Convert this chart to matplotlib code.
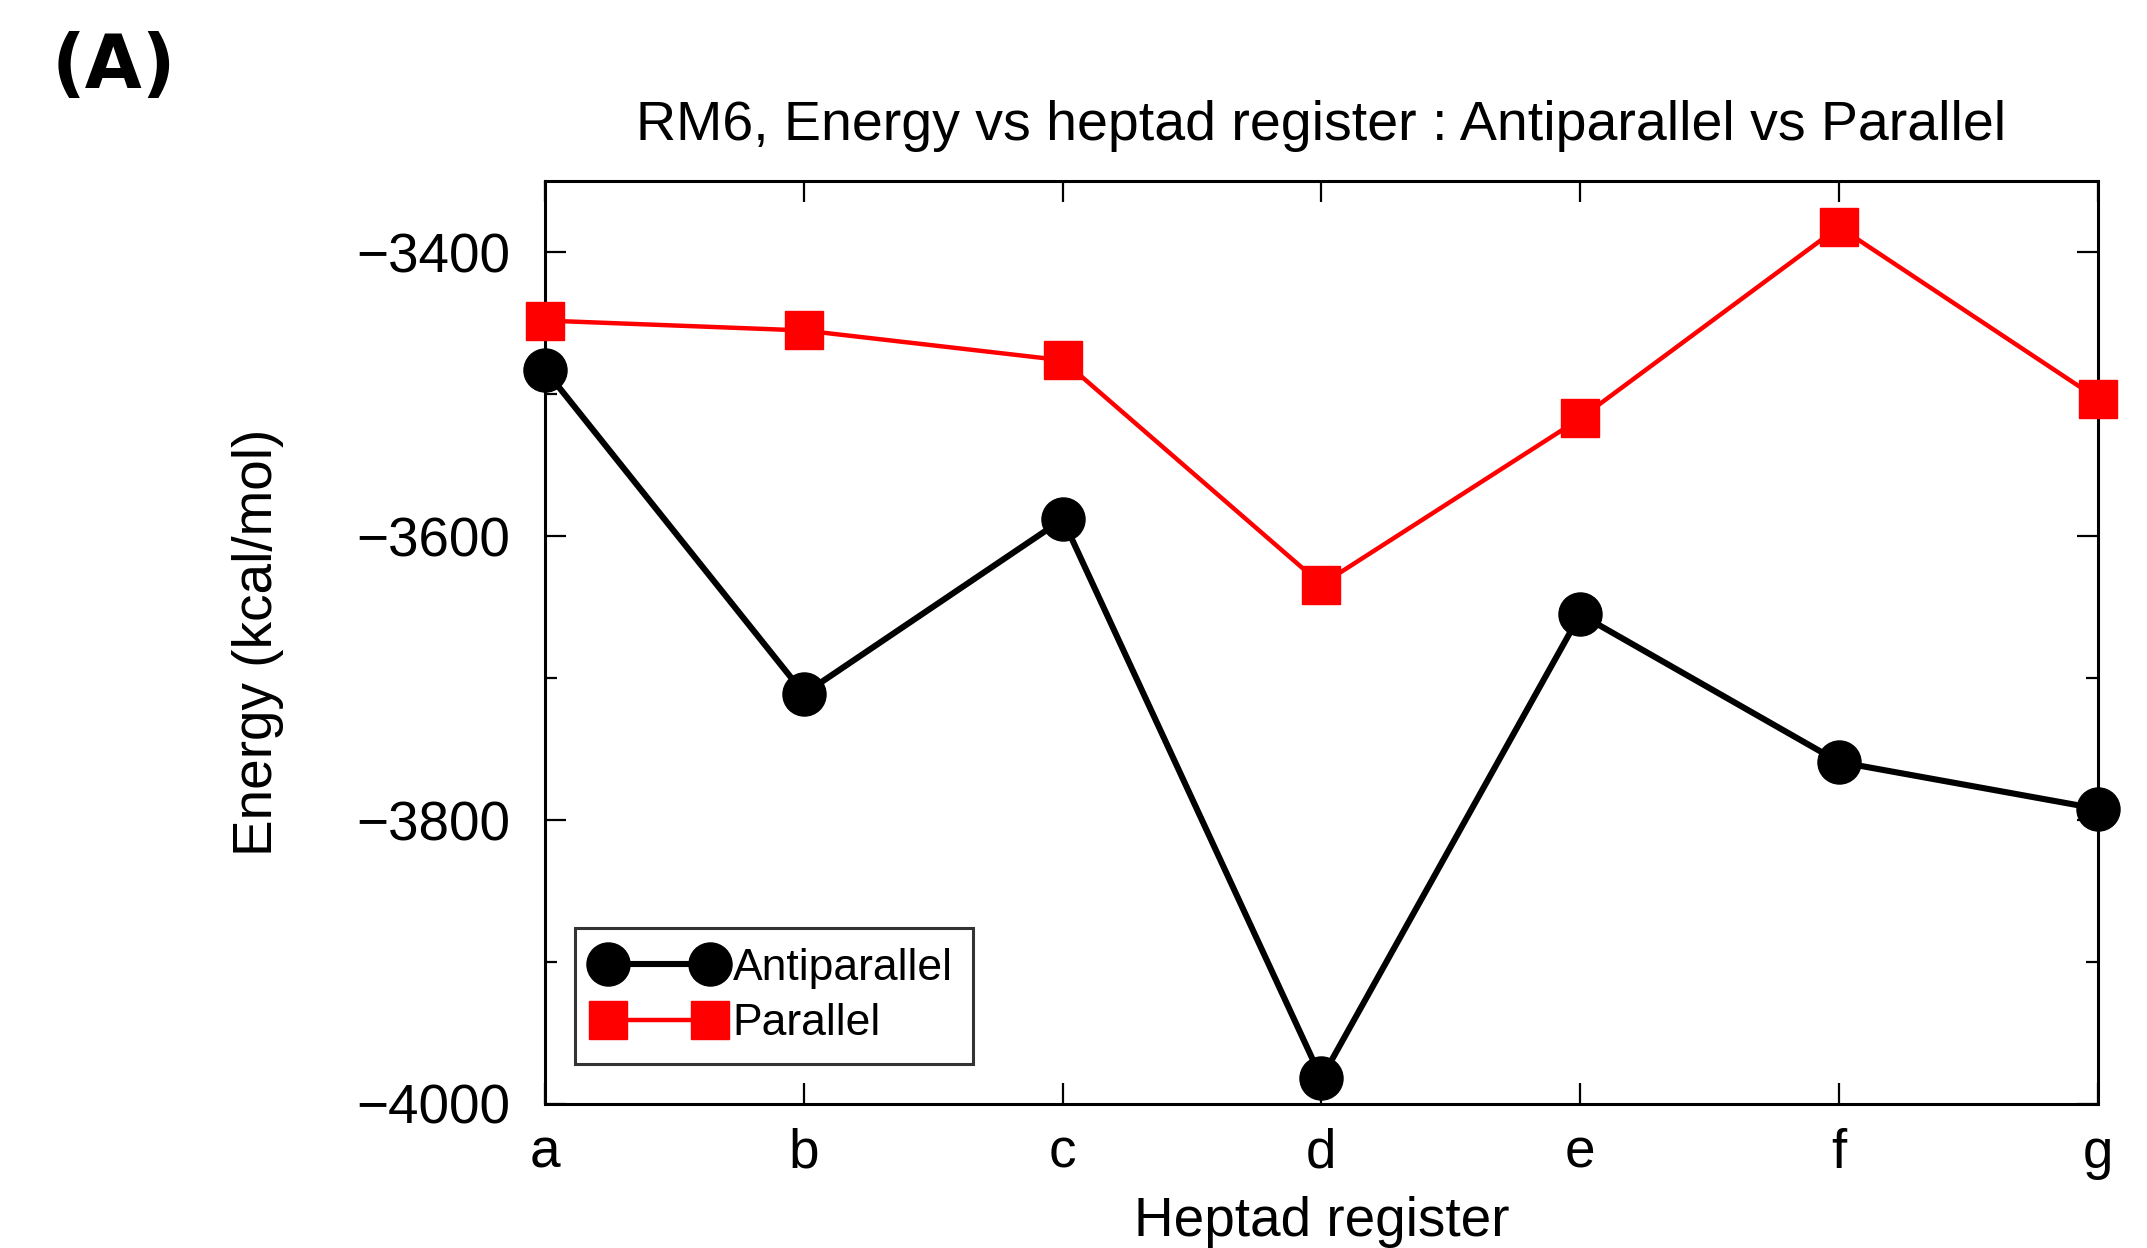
import matplotlib
matplotlib.use("Agg")
import matplotlib.pyplot as plt
from matplotlib.ticker import MultipleLocator

plt.rcParams["font.family"] = ["Liberation Sans", "DejaVu Sans"]

registers = ["a", "b", "c", "d", "e", "f", "g"]
antiparallel = [-3483, -3711, -3588, -3982, -3655, -3759, -3792]
parallel = [-3448, -3455, -3476, -3634, -3517, -3382, -3503]

fig = plt.figure(figsize=(21.47, 12.48), dpi=100)
ax = fig.add_axes([0.254, 0.1154, 0.723, 0.7392])

x = range(len(registers))
ax.plot(x, antiparallel, color="black", lw=4.4, marker="o", ms=31,
        label="Antiparallel", clip_on=False, zorder=3)
ax.plot(x, parallel, color="red", lw=3.2, marker="s", ms=27,
        label="Parallel", clip_on=False, zorder=3)

ax.set_xlim(0, 6)
ax.set_ylim(-4000, -3350)
ax.set_xticks(list(x))
ax.set_xticklabels(registers)
ax.yaxis.set_minor_locator(MultipleLocator(100))
ax.set_yticks([-4000, -3800, -3600, -3400])
ax.set_yticklabels(["\u22124000", "\u22123800", "\u22123600", "\u22123400"])

ax.tick_params(which="both", direction="in", top=True, right=True,
               width=1.6, labelsize=39.5)
ax.tick_params(which="major", length=15)
ax.tick_params(which="minor", length=8.5)
ax.tick_params(axis="y", which="major", pad=25)
ax.tick_params(axis="x", which="major", pad=17)
for s in ax.spines.values():
    s.set_linewidth(2.2)

ax.set_xlabel("Heptad register", fontsize=39.5, labelpad=12)
ax.set_ylabel("Energy (kcal/mol)", fontsize=39.5, labelpad=52)
ax.set_title("RM6, Energy vs heptad register : Antiparallel vs Parallel",
             fontsize=40, pad=30)

leg = ax.legend(loc="lower left", bbox_to_anchor=(0.019, 0.043), numpoints=2,
                fontsize=32, frameon=True, fancybox=False, edgecolor="black",
                handlelength=2.9, handletextpad=0.2, borderpad=0.45,
                labelspacing=0.33, borderaxespad=0)
leg.get_frame().set_linewidth(2.2)

fig.text(0.024, 0.975, "(A)", fontsize=53, fontweight="bold",
         family="DejaVu Sans", va="top")

fig.savefig("out.png", dpi=100)
